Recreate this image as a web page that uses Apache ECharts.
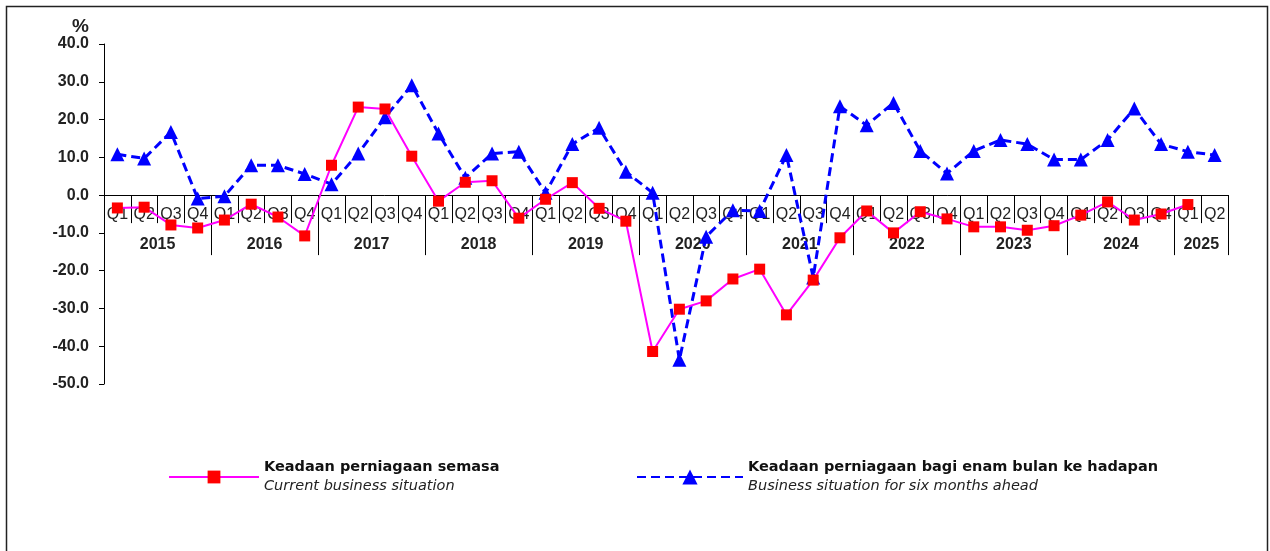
<!DOCTYPE html>
<html>
<head>
<meta charset="utf-8">
<style>
    html, body { margin: 0; padding: 0; background: #fff; }
    #chart { width: 1270px; height: 551px; }
</style>
</head>
<body>
<div id="chart"></div>
<script src="https://cdn.jsdelivr.net/npm/echarts@6/dist/echarts.min.js"></script>
<script>
    // data, 2015 Q1 .. 2025 Q2
    var quarters = [];
    for (var y = 2015; y <= 2025; y++) {
        ['Q1', 'Q2', 'Q3', 'Q4'].forEach(function (q) {
            if (y === 2025 && (q === 'Q3' || q === 'Q4')) return;
            quarters.push(q);
        });
    }
    var years = ['2015', '2016', '2017', '2018', '2019', '2020', '2021', '2022', '2023', '2024', '2025'];
    var yearCentres = [2, 6, 10, 14, 18, 22, 26, 30, 34, 38, 41];
    var yearBounds = [0, 4, 8, 12, 16, 20, 24, 28, 32, 36, 40, 42];

    var semasa = [
        -3.4, -3.2, -7.9, -8.7,
        -6.6, -2.4, -5.8, -10.8,
        7.9, 23.3, 22.8, 10.3,
        -1.6, 3.4, 3.8, -6.1,
        -1.1, 3.3, -3.5, -6.9,
        -41.4, -30.2, -28.0, -22.2,
        -19.6, -31.7, -22.5, -11.3,
        -4.2, -10.0, -4.4, -6.3,
        -8.4, -8.4, -9.3, -8.1,
        -5.3, -1.8, -6.6, -5.0,
        -2.5, null
    ];
    var hadapan = [
        10.8, 9.7, 16.7, -0.9,
        -0.3, 7.9, 7.9, 5.6,
        2.9, 11.0, 20.6, 29.1,
        16.3, 4.6, 11.0, 11.5,
        0.6, 13.5, 17.8, 6.2,
        0.6, -43.6, -11.0, -4.0,
        -4.2, 10.6, -21.8, 23.5,
        18.5, 24.4, 11.7, 5.7,
        11.7, 14.6, 13.5, 9.4,
        9.4, 14.6, 22.9, 13.5,
        11.5, 10.6
    ];

    var nameSemasa = 'Keadaan perniagaan semasa';
    var nameHadapan = 'Keadaan perniagaan bagi enam bulan ke hadapan';

    var gridTop = 44, gridHeight = 340, yMin = -50, yMax = 40;
    var zeroOffset = -gridHeight * (0 - yMin) / (yMax - yMin);

    var font = 'Arial, "Liberation Sans", sans-serif';
    var legendFont = '"DejaVu Sans", sans-serif';

    var legendRich = {
        a: { fontFamily: legendFont, fontSize: 14.5, fontWeight: 'bold', color: '#111', lineHeight: 19 },
        b: { fontFamily: legendFont, fontSize: 14.5, fontStyle: 'italic', color: '#222', lineHeight: 19 }
    };

    var chart = echarts.init(document.getElementById('chart'));
    chart.setOption({
        animation: false,
        textStyle: { fontFamily: font },
        graphic: [{
            type: 'rect',
            shape: { x: 6.5, y: 6.5, width: 1261, height: 560 },
            style: { fill: 'none', stroke: '#222', lineWidth: 1.5 },
            silent: true
        }],
        grid: { left: 104, right: 42, top: gridTop, height: gridHeight },
        legend: [{
            left: 168, top: 460, padding: 0,
            itemWidth: 90, itemHeight: 16,
            data: [nameSemasa],
            formatter: function () {
                return '{a|Keadaan perniagaan semasa}\n{b|Current business situation}';
            },
            textStyle: { rich: legendRich }
        }, {
            left: 636, top: 460, padding: 0,
            itemWidth: 106, itemHeight: 19,
            data: [nameHadapan],
            formatter: function () {
                return '{a|Keadaan perniagaan bagi enam bulan ke hadapan}\n{b|Business situation for six months ahead}';
            },
            textStyle: { rich: legendRich }
        }],
        xAxis: [{
            type: 'category',
            data: quarters,
            boundaryGap: true,
            position: 'bottom',
            axisLine: { onZero: false, lineStyle: { color: '#000', width: 1 } },
            offset: zeroOffset,
            axisTick: { show: true, alignWithLabel: false, interval: 0, length: 28, lineStyle: { color: '#000' } },
            axisLabel: { interval: 0, margin: 11, fontSize: 16, color: '#222', fontFamily: font },
            splitLine: { show: false }
        }, {
            type: 'value',
            min: 0, max: 42,
            position: 'bottom',
            offset: zeroOffset,
            axisLine: { show: false, onZero: false },
            axisTick: { show: true, customValues: yearBounds, length: 60, lineStyle: { color: '#000' } },
            axisLabel: {
                customValues: yearCentres,
                margin: 41,
                fontSize: 16,
                fontWeight: 'bold',
                color: '#222',
                fontFamily: font,
                formatter: function (v) {
                    return years[yearCentres.indexOf(v)];
                }
            },
            splitLine: { show: false }
        }],
        yAxis: {
            type: 'value',
            min: yMin, max: yMax, interval: 10,
            name: '%',
            nameLocation: 'end',
            nameGap: 6,
            nameTextStyle: { fontSize: 19, fontWeight: 'bold', color: '#222', align: 'right', padding: [0, 15, 0, 0] },
            axisLine: { show: true, lineStyle: { color: '#000' } },
            axisTick: { show: true, length: 5, lineStyle: { color: '#000' } },
            axisLabel: {
                margin: 15, fontSize: 16, fontWeight: 'bold', color: '#222', fontFamily: font,
                formatter: function (v) { return v.toFixed(1); }
            },
            splitLine: { show: false }
        },
        series: [{
            name: nameSemasa,
            type: 'line',
            xAxisIndex: 0,
            data: semasa,
            symbol: 'rect',
            symbolSize: 11,
            lineStyle: { color: '#ff00ff', width: 2 },
            itemStyle: { color: '#ff0000' },
            z: 3
        }, {
            name: nameHadapan,
            type: 'line',
            xAxisIndex: 0,
            data: hadapan,
            symbol: 'triangle',
            symbolSize: 14,
            lineStyle: { color: '#0000ff', width: 3, type: [9, 5] },
            itemStyle: { color: '#0000ff' },
            z: 2
        }]
    });
</script>
</body>
</html>
